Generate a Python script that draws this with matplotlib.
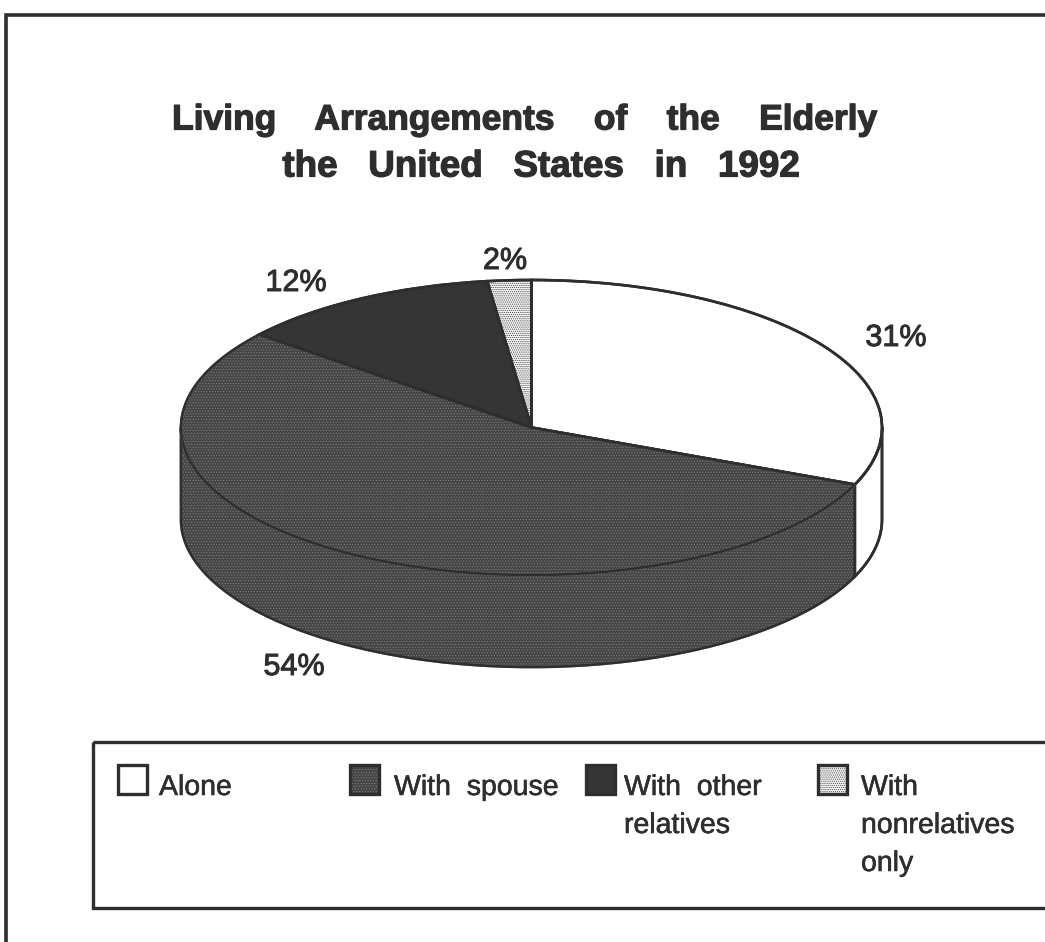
import numpy as np
import matplotlib
matplotlib.use('Agg')
import matplotlib.pyplot as plt
from matplotlib.patches import Rectangle
import matplotlib.patheffects as pe

plt.rcParams['font.family'] = ['Liberation Sans', 'DejaVu Sans']
plt.rcParams['hatch.linewidth'] = 0.5

title_lines = ['Living    Arrangements    of    the    Elderly', 'the   United   States   in   1992']
categories = ['Alone', 'With  spouse', 'With  other\nrelatives', 'With\nnonrelatives\nonly']
values = [31, 54, 12, 2]

W, H = 1045, 942
INK = '#2e2e2e'

#pie ellipse in pixels
left, right = 181, 882
top, bottom = 280, 575
depth = 92

# fill, hatch colour, hatch for each slice
styles = [('white', None, None),
          ('#454545', '#7c7c7c', '......'),
          ('#353535', '#353535', None),
          ('#f4f4f4', '#3c3c3c', '........')]

fig = plt.figure(figsize=(W/100, H/100), dpi=100)
fig.patch.set_facecolor('white')

#axes for the pie, squashed so the circle comes out as an ellipse
ax = fig.add_axes([left/W, 1-(bottom+depth)/H, (right-left)/W, (bottom+depth-top)/H])
wedges, _ = ax.pie(values, startangle=90, counterclock=False, radius=1)
d = 2*depth/(bottom-top)
ax.set_aspect('auto')
ax.set_xlim(-1, 1)
ax.set_ylim(-1-d, 1)
ax.axis('off')

def style_patch(p, i):
    fc, hc, hatch = styles[i]
    p.set_facecolor(fc)
    p.set_clip_on(False)
    p.set_linewidth(1.9)
    if hatch:
        p.set_hatch(hatch)
        p.set_edgecolor(hc)
    else:
        p.set_edgecolor(INK)

#side wall, only the part of the rim that faces the viewer
frac = np.cumsum(values)/np.sum(values)*360
stops = [(90, frac[0]), (frac[0], 270)]
for i, (a0, a1) in enumerate(stops):
    t = np.radians(np.linspace(a0, a1, 120))
    x = np.sin(t)
    y = np.cos(t)
    xs = np.r_[x, x[::-1]]
    ys = np.r_[y, y[::-1]-d]
    wall = ax.fill(xs, ys, zorder=1)[0]
    style_patch(wall, i)
    ax.plot(np.r_[xs, xs[0]], np.r_[ys, ys[0]], color=INK, lw=1.9, zorder=1.5, clip_on=False)

for i, w in enumerate(wedges):
    w.set_zorder(2)
    style_patch(w, i)
    #outline on top of the hatch
    th = np.radians(np.linspace(0 if i == 0 else frac[i-1], frac[i], 120))
    ax.plot(np.r_[0, np.sin(th), 0], np.r_[0, np.cos(th), 0], color=INK, lw=1.9,
            zorder=3, clip_on=False)

#overlay in pixel coordinates for frame, texts and legend
ov = fig.add_axes([0, 0, 1, 1], facecolor='none')
ov.set_xlim(0, W)
ov.set_ylim(H, 0)
ov.axis('off')

ov.plot([6, 6, W], [H, 15, 15], color=INK, lw=2.6, solid_joinstyle='miter')
ov.add_patch(Rectangle((93, 742), W-93+5, 166, fc='none', ec=INK, lw=2.4))

heavy = [pe.withStroke(linewidth=0.9, foreground=INK)]
bold = [pe.withStroke(linewidth=0.7, foreground=INK)]
ov.text(525, 120, title_lines[0], ha='center', va='center', fontsize=25.5, fontweight='bold', color=INK, path_effects=heavy)
ov.text(541, 167, title_lines[1], ha='center', va='center', fontsize=26.5, fontweight='bold', color=INK, path_effects=heavy)

label_pos = [(896, 338), (294, 667), (296, 283), (505, 261)]
for v, (x, y) in zip(values, label_pos):
    ov.text(x, y, f'{v}%', ha='center', va='center', fontsize=22, color=INK, path_effects=bold)

#legend
swatch_x = [118, 350, 586, 818]
text_x = [159, 394, 624, 861]
for i, c in enumerate(categories):
    fc, hc, hatch = styles[i]
    if hatch:
        ov.add_patch(Rectangle((swatch_x[i], 765), 29, 29, fc=fc, ec=hc, hatch=hatch, lw=0))
    else:
        ov.add_patch(Rectangle((swatch_x[i], 765), 29, 29, fc=fc, ec='none'))
    ov.add_patch(Rectangle((swatch_x[i], 765), 29, 29, fc='none', ec=INK, lw=2.4))
    ov.text(text_x[i], 775, c, ha='left', va='top', fontsize=20.5, color=INK,
            linespacing=1.6, path_effects=[pe.withStroke(linewidth=0.4, foreground=INK)])

fig.savefig('out.png', dpi=100)
